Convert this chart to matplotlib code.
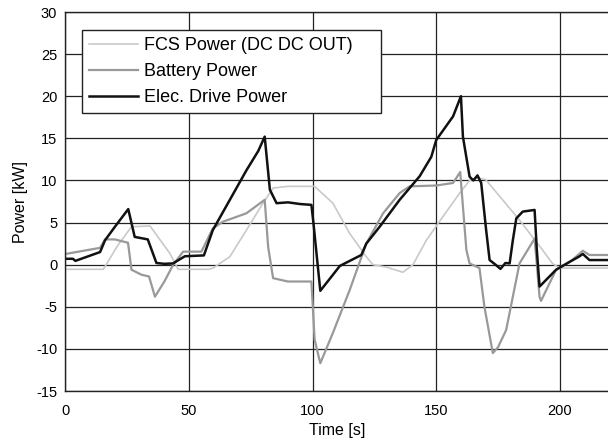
import matplotlib
matplotlib.use("Agg")
import matplotlib.pyplot as plt

# ---- data ----
t_elec = [0, 3, 4, 14, 16, 20, 25.4, 28, 33.3, 36.8, 40, 43.5, 48.3, 56, 59.6, 66.5, 73.2, 78, 80.6,
          82.7, 85.4, 90, 95, 99.5, 100.3, 103.1, 108.2, 111, 115, 119.7, 121.7, 127.1, 135.2, 143.3,
          148, 150, 156.8, 160.0, 160.8, 163.5, 165, 166.7, 168.2, 170.2, 171.6, 174, 176, 178, 179.7,
          181, 182.4, 185, 189.8, 190.7, 191.8, 198.5, 205, 208, 209.3, 212, 219.5]
p_elec = [0.7, 0.7, 0.45, 1.5, 2.9, 4.5, 6.6, 3.3, 3.0, 0.2, 0.1, 0.15, 1.0, 1.1, 4.1, 7.7, 11.2, 13.5, 15.2,
          8.9, 7.3, 7.4, 7.2, 7.1, 5.0, -3.1, -1.2, -0.15, 0.45, 1.15, 2.5, 4.5, 7.7, 10.5,
          12.8, 14.8, 17.6, 20.0, 15.2, 10.45, 10.0, 10.6, 9.7, 4.1, 0.55, 0.0, -0.5, 0.2, 0.15,
          2.9, 5.5, 6.3, 6.5, 1.75, -2.6, -0.6, 0.5, 1.0, 1.27, 0.55, 0.55]

t_batt = [0, 14, 16, 20, 25.3, 26.7, 30.8, 33.8, 36.2, 40, 43.6, 47.6, 55, 59.6, 63.7, 73.2, 80.6, 82,
          84, 90, 99.5, 100.8, 103.1, 108.2, 115, 121.7, 128.5, 135.2, 139.2, 150, 156.8, 159.7,
          162.2, 163.5, 167.5, 169.5, 172.9, 175, 178.3, 181, 183.7, 189.8, 191.8, 192.4, 198.5,
          205, 209.3, 212, 219.5]
p_batt = [1.27, 2.0, 3.0, 3.0, 2.6, -0.6, -1.2, -1.4, -3.8, -2.0, 0.0, 1.55, 1.55, 4.3, 5.1, 6.1, 7.7, 2.1,
          -1.6, -2.0, -2.0, -8.9, -11.7, -8.1, -3.0, 2.5, 6.1, 8.5, 9.3, 9.4, 9.7, 11.0,
          1.75, 0.15, -0.4, -5.0, -10.5, -9.8, -7.75, -3.8, 0.15, 3.1, -3.8, -4.3, -0.6,
          0.55, 1.65, 1.15, 1.15]

t_fcs = [0, 15.3, 21.3, 26.7, 34.2, 42.2, 45.6, 58, 59.7, 66.5, 73.2, 79.9, 84, 90, 98, 100.8, 108.2,
         115, 121.7, 124.4, 130, 136.5, 140.6, 146, 152.7, 159.5, 163.5, 166.7, 170, 183.7, 193,
         197, 199.9, 219.5]
p_fcs = [-0.55, -0.55, 2.35, 4.5, 4.6, 1.35, -0.55, -0.55, -0.4, 0.95, 4.1, 7.3, 9.1, 9.3, 9.3, 9.3, 7.3,
         3.7, 0.95, 0.0, -0.3, -0.9, 0.0, 2.9, 5.7, 8.5, 10.0, 10.3, 10.1, 5.3, 1.75,
         0.15, -0.4, -0.4]

labels = ["FCS Power (DC DC OUT)", "Battery Power", "Elec. Drive Power"]
x_ticks = [0, 50, 100, 150, 200]
y_ticks = [-15, -10, -5, 0, 5, 10, 15, 20, 25, 30]

plt.rcParams['font.family'] = ['Liberation Sans', 'DejaVu Sans']
plt.rcParams['axes.unicode_minus'] = False

fig = plt.figure(figsize=(6.08, 4.48), dpi=100)
ax = fig.add_axes([0.1077, 0.1272, 0.8923, 0.846])

l1, = ax.plot(t_fcs, p_fcs, color='#c9c9c9', lw=1.2, label=labels[0])
l2, = ax.plot(t_batt, p_batt, color='#999999', lw=1.6, label=labels[1])
l3, = ax.plot(t_elec, p_elec, color='#111111', lw=1.8, label=labels[2])

ax.set_xlim(0, 219.5)
ax.set_ylim(-15, 30)
ax.set_xticks(x_ticks)
ax.set_yticks(y_ticks)
ax.grid(True, color='#222222', lw=0.9)
ax.set_axisbelow(True)
for s in ['left', 'bottom', 'top']:
    ax.spines[s].set_color('#222222')
    ax.spines[s].set_linewidth(1.0)
ax.spines['right'].set_visible(False)
ax.tick_params(axis='both', length=0, labelsize=10.5)
ax.tick_params(axis='x', pad=9)
ax.tick_params(axis='y', pad=6)
ax.set_xlabel("Time [s]", fontsize=11.5, labelpad=4)
ax.set_ylabel("Power [kW]", fontsize=11.5, labelpad=6)

leg = ax.legend(handles=[l1, l2, l3], loc='upper left',
                bbox_to_anchor=(0.031, 0.9525, 0.551, 0.0), mode='expand',
                borderaxespad=0, fontsize=13, handlelength=2.7, handletextpad=0.35,
                labelspacing=0.5, borderpad=0.38, fancybox=False, framealpha=1)
leg.get_frame().set_edgecolor('#222222')
leg.get_frame().set_linewidth(1.0)

fig.savefig("out.png", dpi=100)
